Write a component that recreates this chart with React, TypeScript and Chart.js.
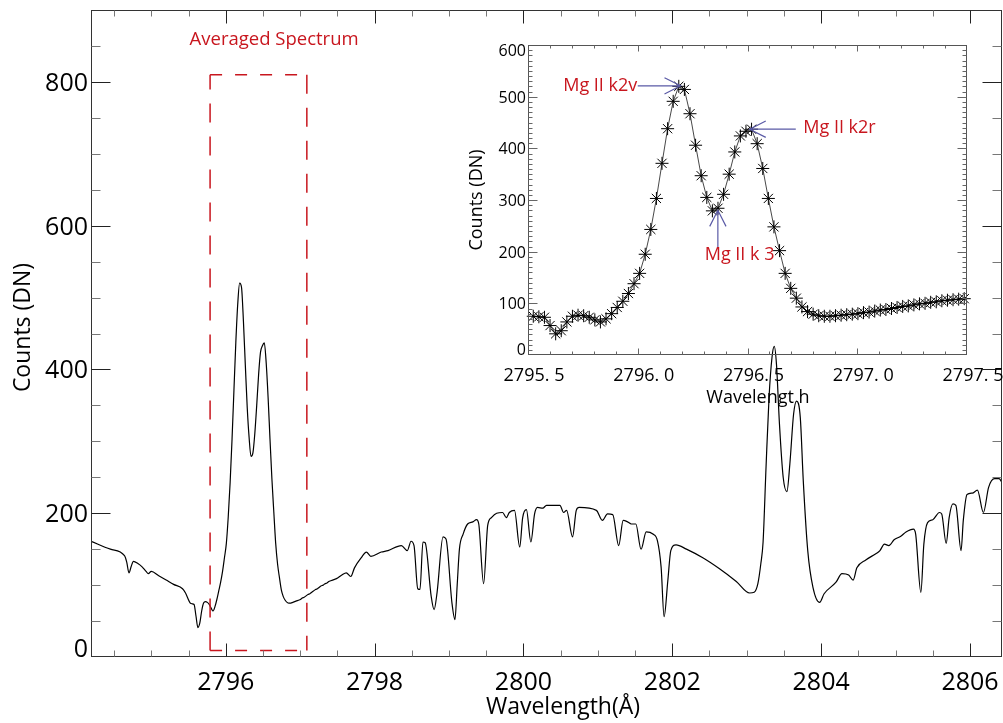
import React, { useEffect, useRef } from "react";
import { Chart, registerables } from "chart.js";

Chart.register(...registerables);

// ---------- data ----------
const leftWavelength = [2794.19, 2794.45, 2794.64, 2794.67, 2794.70, 2794.73, 2794.76, 2794.82, 2794.88, 2794.93, 2794.96, 2795.00, 2795.10, 2795.20, 2795.30, 2795.42, 2795.46];
const leftCounts = [161, 150, 141, 132, 117, 126, 133, 130, 125, 119, 116, 119, 113, 107, 101, 95, 89];

const insetStart = 2795.524;
const insetStep = 0.0255;
const insetCounts = [
  75, 74, 73, 57, 41, 47, 64, 75, 77, 76,
  73, 68, 64, 70, 80, 92, 104, 119, 138, 158,
  195, 243, 303, 371, 438, 491, 520, 514, 467, 406,
  347, 305, 279, 284, 311, 350, 393, 424, 433, 437,
  409, 361, 303, 248, 202, 158, 129, 110, 93, 84,
  79, 76, 75, 75, 76, 77, 78, 79, 80, 82,
  83, 85, 87, 88, 90, 92, 94, 95, 97, 99,
  100, 102, 103, 105, 106, 107, 108, 109,
];

const rightWavelength = [
  2797.56, 2797.62, 2797.68, 2797.73, 2797.82, 2797.89, 2797.95, 2798.09, 2798.18, 2798.36,
  2798.44, 2798.49, 2798.53, 2798.58, 2798.61, 2798.65, 2798.68, 2798.76, 2798.80, 2798.84,
  2798.92, 2798.96, 2799.04, 2799.08, 2799.11, 2799.14, 2799.19, 2799.25, 2799.32, 2799.37,
  2799.40, 2799.465, 2799.52, 2799.57, 2799.64, 2799.72, 2799.77, 2799.81, 2799.88, 2799.95,
  2799.99, 2800.04, 2800.10, 2800.15, 2800.19, 2800.26, 2800.31, 2800.49, 2800.54, 2800.58,
  2800.66, 2800.71, 2800.75, 2800.98, 2801.06, 2801.13, 2801.20, 2801.28, 2801.34, 2801.40,
  2801.45, 2801.51, 2801.58, 2801.65, 2801.74, 2801.80, 2801.85, 2801.89, 2801.94, 2801.98,
  2802.05, 2802.19, 2802.41, 2802.63, 2802.86, 2803.04, 2803.10, 2803.15, 2803.19, 2803.22,
  2803.26, 2803.30, 2803.34, 2803.37, 2803.40, 2803.44, 2803.49, 2803.54, 2803.58, 2803.63,
  2803.67, 2803.72, 2803.76, 2803.82, 2803.89, 2803.98, 2804.04, 2804.20, 2804.28, 2804.37,
  2804.43, 2804.48, 2804.60, 2804.74, 2804.79, 2804.85, 2804.91, 2804.98, 2805.07, 2805.14,
  2805.24, 2805.27, 2805.34, 2805.38, 2805.43, 2805.50, 2805.59, 2805.62, 2805.68, 2805.72,
  2805.77, 2805.81, 2805.88, 2805.91, 2805.96, 2806.03, 2806.10, 2806.18, 2806.25, 2806.33,
  2806.39, 2806.43,
];
const rightCounts = [
  114, 117, 112, 124, 138, 146, 140, 146, 148, 155,
  148, 161, 155, 95, 94, 160, 159, 85, 66, 90,
  167, 164, 75, 52, 100, 150, 171, 185, 188, 191,
  185, 102, 183, 194, 200, 201, 194, 201, 204, 153,
  194, 205, 160, 199, 208, 207, 211, 211, 201, 204,
  167, 204, 208, 204, 190, 199, 198, 155, 190, 188,
  185, 185, 150, 174, 171, 162, 125, 56, 106, 148,
  156, 150, 138, 123, 105, 89, 90, 102, 130, 160,
  265, 361, 417, 432, 407, 324, 250, 230, 269, 338,
  356, 333, 245, 148, 97, 76, 88, 104, 116, 114,
  107, 124, 135, 144, 148, 157, 155, 163, 168, 174,
  178, 171, 90, 157, 187, 191, 201, 199, 158, 194,
  213, 211, 148, 190, 226, 228, 232, 201, 236, 248,
  248, 243,
];

// averaged-spectrum window (dashed box) in data units
const boxWavelength = [2795.79, 2797.09];
const boxCounts = [9, 810];

// axes
const mainXRange = [2794.19, 2806.43];
const mainYRange = [0, 900];
const mainXTicks = [2796, 2798, 2800, 2802, 2804, 2806];
const mainYTicks = [0, 200, 400, 600, 800];

const insetXRange = [2795.5, 2797.5];
const insetYRange = [0, 600];
const insetXTicks = [2795.5, 2796.0, 2796.5, 2797.0, 2797.5];
const insetXTickLabels = ["2795. 5", "2796. 0", "2796. 5", "2797. 0", "2797. 5"];
const insetYTicks = [0, 100, 200, 300, 400, 500, 600];

// inset annotations (data coordinates)
const insetLabels = [
  { text: "Mg II k2v", x: 2795.998, y: 521, align: "right" },
  { text: "Mg II k2r", x: 2796.754, y: 439, align: "left" },
  { text: "Mg II k 3", x: 2796.305, y: 193, align: "left" },
];
const insetArrows = [
  { from: [2796.0, 521], to: [2796.195, 521] },
  { from: [2796.72, 437], to: [2796.51, 437] },
  { from: [2796.365, 206], to: [2796.365, 280] },
];

// ---------- styling ----------
const FONT = '"Open Sans", "DejaVu Sans", sans-serif';
const RED = "#c8161e";
const ARROW = "#5a5aa6";

function mainSeries() {
  const pts: { x: number; y: number }[] = [];
  leftWavelength.forEach((w, i) => pts.push({ x: w, y: leftCounts[i] }));
  insetCounts.forEach((c, i) => pts.push({ x: insetStart + i * insetStep, y: c }));
  rightWavelength.forEach((w, i) => pts.push({ x: w, y: rightCounts[i] }));
  return pts;
}

function insetSeries() {
  return insetCounts.map((c, i) => ({ x: insetStart + i * insetStep, y: c }));
}

function drawText(ctx: CanvasRenderingContext2D, str: string, x: number, y: number, font: string, color: string, align: CanvasTextAlign = "center", baseline: CanvasTextBaseline = "alphabetic", rot = 0) {
  ctx.save();
  ctx.font = font;
  ctx.fillStyle = color;
  ctx.textAlign = align;
  ctx.textBaseline = baseline;
  ctx.translate(x, y);
  if (rot) ctx.rotate(rot);
  ctx.fillText(str, 0, 0);
  ctx.restore();
}

function line(ctx: CanvasRenderingContext2D, x0: number, y0: number, x1: number, y1: number) {
  ctx.beginPath();
  ctx.moveTo(x0, y0);
  ctx.lineTo(x1, y1);
  ctx.stroke();
}

const mainDecor = {
  id: "mainDecor",
  afterDraw(chart: any) {
    const { ctx, chartArea: a, scales } = chart;
    const xs = scales.x;
    const ys = scales.y;
    const L = Math.round(a.left) + 0.5;
    const R = Math.round(a.right) - 0.5;
    const T = Math.round(a.top) + 0.5;
    const B = Math.round(a.bottom) - 0.5;
    ctx.save();
    ctx.lineWidth = 1;
    ctx.strokeStyle = "#333";
    ctx.strokeRect(L, T, R - L, B - T);
    for (let k = Math.ceil(xs.min * 2); k <= Math.floor(xs.max * 2); k++) {
      const px = Math.round(xs.getPixelForValue(k / 2)) + 0.5;
      const len = k % 4 === 0 ? 13 : 6;
      ctx.strokeStyle = k % 4 === 0 ? "#222" : "#777";
      line(ctx, px, B, px, B - len);
      line(ctx, px, T, px, T + len);
    }
    for (let k = 1; k < 18; k++) {
      const py = Math.round(ys.getPixelForValue(k * 50)) + 0.5;
      const major = k % 4 === 0;
      const len = major ? 19 : 9;
      ctx.strokeStyle = major ? "#222" : "#777";
      line(ctx, L, py, L + len, py);
      line(ctx, R, py, R - len, py);
    }
    ctx.restore();
    const tickFont = `25px ${FONT}`;
    mainXTicks.forEach((v) => {
      drawText(ctx, String(v), xs.getPixelForValue(v), 690, tickFont, "#000", "center");
    });
    mainYTicks.forEach((v) => {
      const py = ys.getPixelForValue(v);
      drawText(ctx, String(v), 88, v === mainYRange[0] ? py : py + 9, tickFont, "#000", "right");
    });
    drawText(ctx, "Counts (DN)", 30, (a.top + a.bottom) / 2 - 6, `23px ${FONT}`, "#000", "center", "alphabetic", -Math.PI / 2);
    drawText(ctx, "Wavelength(Å)", 563, 714, `23px ${FONT}`, "#000", "center");
    drawText(ctx, "Averaged Spectrum", xs.getPixelForValue(2796.65), ys.getPixelForValue(858), `18.5px ${FONT}`, RED, "center", "middle");
  },
};

const insetDecor = {
  id: "insetDecor",
  afterDraw(chart: any) {
    const { ctx, chartArea: a, scales } = chart;
    const xs = scales.x;
    const ys = scales.y;
    const L = Math.round(a.left) + 0.5;
    const R = Math.round(a.right) - 0.5;
    const T = Math.round(a.top) + 0.5;
    const B = Math.round(a.bottom) - 0.5;
    ctx.save();
    ctx.lineWidth = 1;
    ctx.strokeStyle = "#555";
    ctx.strokeRect(L, T, R - L, B - T);
    ctx.strokeStyle = "#666";
    for (let k = 1; k < 20; k++) {
      const px = Math.round(xs.getPixelForValue(insetXRange[0] + k * 0.1)) + 0.5;
      const len = k % 5 === 0 ? 6 : 3;
      line(ctx, px, B, px, B - len);
      line(ctx, px, T, px, T + len);
    }
    for (let k = 1; k < 60; k++) {
      const py = Math.round(ys.getPixelForValue(k * 10)) + 0.5;
      const len = k % 10 === 0 ? 9 : 4;
      line(ctx, L, py, L + len, py);
      line(ctx, R, py, R - len, py);
    }
    ctx.restore();
    insetXTicks.forEach((v, i) => {
      drawText(ctx, insetXTickLabels[i], xs.getPixelForValue(v) + 6, 381, `18px ${FONT}`, "#000", "center");
    });
    insetYTicks.forEach((v) => {
      const py = ys.getPixelForValue(v);
      const dy = v === insetYRange[0] ? 0 : v === insetYRange[1] ? 11 : 6;
      drawText(ctx, String(v), 526, py + dy, `16px ${FONT}`, "#000", "right");
    });
    drawText(ctx, "Counts (DN)", 482, (a.top + a.bottom) / 2, `18px ${FONT}`, "#000", "center", "alphabetic", -Math.PI / 2);
    drawText(ctx, "Wavelengt h", 758, 403, `18px ${FONT}`, "#000", "center");

    ctx.save();
    ctx.strokeStyle = ARROW;
    ctx.lineWidth = 1.2;
    insetArrows.forEach((ar) => {
      const x0 = xs.getPixelForValue(ar.from[0]);
      const y0 = ys.getPixelForValue(ar.from[1]);
      const x1 = xs.getPixelForValue(ar.to[0]);
      const y1 = ys.getPixelForValue(ar.to[1]);
      const ang = Math.atan2(y1 - y0, x1 - x0);
      const hl = 18;
      const ha = 0.47;
      ctx.beginPath();
      ctx.moveTo(x0, y0);
      ctx.lineTo(x1, y1);
      ctx.moveTo(x1 - hl * Math.cos(ang - ha), y1 - hl * Math.sin(ang - ha));
      ctx.lineTo(x1, y1);
      ctx.lineTo(x1 - hl * Math.cos(ang + ha), y1 - hl * Math.sin(ang + ha));
      ctx.stroke();
    });
    ctx.restore();
    insetLabels.forEach((lb) => {
      drawText(ctx, lb.text, xs.getPixelForValue(lb.x), ys.getPixelForValue(lb.y), `18px ${FONT}`, RED, lb.align as CanvasTextAlign, "middle");
    });
  },
};

function mainConfig(): any {
  const [bx0, bx1] = boxWavelength;
  const [by0, by1] = boxCounts;
  return {
    type: "line",
    data: {
      datasets: [
        {
          data: [
            { x: bx0, y: by0 }, { x: bx0, y: by1 }, { x: bx0, y: null },
            { x: bx1, y: by1 }, { x: bx1, y: by0 },
          ],
          borderColor: RED,
          borderWidth: 1.5,
          borderDash: [19, 14],
          pointRadius: 0,
          spanGaps: false,
          fill: false,
        },
        {
          data: [
            { x: bx0, y: by1 }, { x: bx1, y: by1 }, { x: bx1, y: null },
            { x: bx0, y: by0 }, { x: bx1, y: by0 },
          ],
          borderColor: RED,
          borderWidth: 1.5,
          borderDash: [12, 13],
          pointRadius: 0,
          spanGaps: false,
          fill: false,
        },
        {
          data: mainSeries(),
          borderColor: "#000",
          borderWidth: 1.2,
          pointRadius: 0,
          cubicInterpolationMode: "monotone",
          fill: false,
        },
      ],
    },
    options: {
      animation: false,
      responsive: false,
      devicePixelRatio: 1,
      events: [],
      layout: { padding: { left: 91, right: 1, top: 10, bottom: 66 } },
      scales: {
        x: { type: "linear", min: mainXRange[0], max: mainXRange[1], display: false },
        y: { type: "linear", min: mainYRange[0], max: mainYRange[1], display: false },
      },
      plugins: { legend: { display: false }, tooltip: { enabled: false } },
    },
    plugins: [mainDecor],
  };
}

function insetConfig(): any {
  return {
    type: "line",
    data: {
      datasets: [
        {
          data: insetSeries(),
          borderColor: "#333",
          borderWidth: 0.9,
          pointStyle: "star",
          pointRadius: 6.5,
          pointBorderColor: "#000",
          pointBorderWidth: 1,
          pointBackgroundColor: "#000",
          fill: false,
          clip: false,
        },
      ],
    },
    options: {
      animation: false,
      responsive: false,
      devicePixelRatio: 1,
      events: [],
      layout: { padding: { left: 528, right: 36, top: 45, bottom: 368 } },
      scales: {
        x: { type: "linear", min: insetXRange[0], max: insetXRange[1], display: false },
        y: { type: "linear", min: insetYRange[0], max: insetYRange[1], display: false },
      },
      plugins: { legend: { display: false }, tooltip: { enabled: false } },
    },
    plugins: [insetDecor],
  };
}

export default function App() {
  const mainRef = useRef<HTMLCanvasElement>(null);
  const insetRef = useRef<HTMLCanvasElement>(null);
  useEffect(() => {
    const main = new Chart(mainRef.current as HTMLCanvasElement, mainConfig());
    const inset = new Chart(insetRef.current as HTMLCanvasElement, insetConfig());
    return () => {
      main.destroy();
      inset.destroy();
    };
  }, []);
  return (
    <div style={{ position: "fixed", left: 0, top: 0, width: 1003, height: 723, background: "#fff" }}>
      <canvas ref={mainRef} width={1003} height={723} style={{ position: "absolute", left: 0, top: 0 }} />
      <canvas ref={insetRef} width={1003} height={723} style={{ position: "absolute", left: 0, top: 0 }} />
    </div>
  );
}
